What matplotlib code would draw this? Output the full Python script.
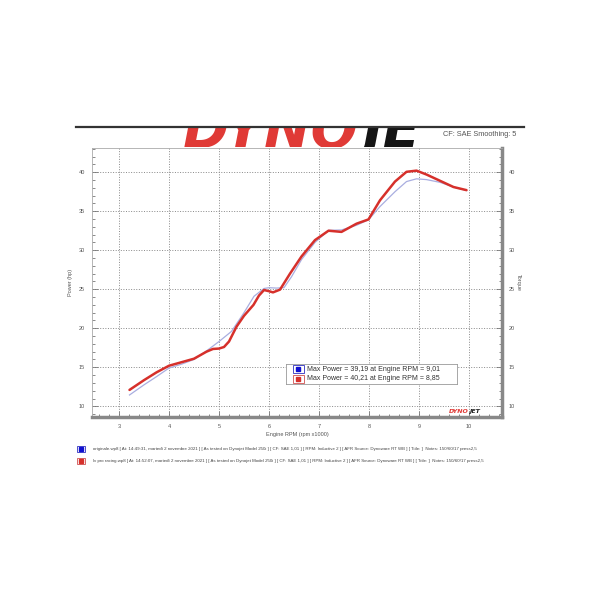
import numpy as np
import matplotlib.pyplot as plt
from matplotlib.ticker import MultipleLocator

plt.rcParams['font.family'] = ['Liberation Sans', 'DejaVu Sans']

# dati (rpm x1000, potenza hp)
rpm_orig = [3.21, 3.5, 3.75, 4.0, 4.25, 4.5, 4.75, 5.0, 5.25, 5.5, 5.7, 5.9, 6.0,
            6.15, 6.3, 6.45, 6.65, 6.92, 7.19, 7.45, 7.75, 7.99, 8.22, 8.52, 8.75,
            8.95, 9.15, 9.42, 9.69, 9.95]
hp_orig = [11.45, 12.75, 13.8, 14.9, 15.4, 16.0, 17.1, 18.3, 19.6, 22.0, 24.1, 25.1,
           25.2, 25.15, 25.2, 26.6, 28.8, 31.0, 32.55, 32.6, 33.2, 33.9, 35.6, 37.5,
           38.8, 39.15, 39.05, 38.7, 38.1, 37.65]

rpm_lv = [3.21, 3.5, 3.75, 4.0, 4.25, 4.5, 4.75, 4.88, 5.0, 5.1, 5.2, 5.35, 5.5,
          5.69, 5.8, 5.9, 6.0, 6.08, 6.22, 6.42, 6.65, 6.92, 7.19, 7.45, 7.75, 7.99,
          8.22, 8.52, 8.75, 8.95, 9.15, 9.42, 9.69, 9.95]
hp_lv = [12.1, 13.35, 14.35, 15.2, 15.65, 16.1, 17.0, 17.35, 17.4, 17.6, 18.3, 20.2,
         21.6, 23.0, 24.2, 24.9, 24.75, 24.6, 24.95, 27.0, 29.2, 31.3, 32.5, 32.35,
         33.4, 33.95, 36.4, 38.8, 40.05, 40.2, 39.7, 38.9, 38.1, 37.7]

x_ticks = [3, 4, 5, 6, 7, 8, 9, 10]
y_ticks = [10, 15, 20, 25, 30, 35, 40]

legend_lines = ['Max Power = 39,19 at Engine RPM = 9,01',
                'Max Power = 40,21 at Engine RPM = 8,85']
file_lines = [
    'originale.wp8 [ At: 14:49:31, martedì 2 novembre 2021 ] [ As tested on Dynojet Model 250i ] '
    '[ CF: SAE 1,01 ] [ RPM: Inductive 2 ] [ AFR Source: Dynoware RT WB ] [ Title: ]  Notes: 150/60/17 press2,5',
    'lv pro racing.wp8 [ At: 14:52:07, martedì 2 novembre 2021 ] [ As tested on Dynojet Model 250i ] '
    '[ CF: SAE 1,01 ] [ RPM: Inductive 2 ] [ AFR Source: Dynoware RT WB ] [ Title: ]  Notes: 150/60/17 press2,5',
]

c_blue = '#a9aee0'
c_red = '#d6302b'
c_txt = '#555555'

fig = plt.figure(figsize=(6, 6), dpi=100)
W = H = 600.0


def box(x0, y0, x1, y1):
    # pixel (dall'alto) -> frazioni figura
    return [x0 / W, 1 - y1 / H, (x1 - x0) / W, (y1 - y0) / H]


# intestazione con logo tagliato
axh = fig.add_axes(box(76, 127, 422, 147))
axh.axis('off')
axh.text(183 / W, 1 - 147 / H, 'DYNO', transform=fig.transFigure, fontsize=40,
         fontweight='bold', style='italic', color='#e03a36', family='DejaVu Sans',
         va='baseline', clip_on=True)
axh.text(362 / W, 1 - 147 / H, 'JE', transform=fig.transFigure, fontsize=40,
         fontweight='bold', style='italic', color='#151515', family='DejaVu Sans',
         va='baseline', clip_on=True)
fig.add_artist(plt.Line2D([76 / W, 524 / W], [1 - 127 / H] * 2, color='#333333', lw=1.6))
fig.text(443 / W, 1 - 135 / H, 'CF: SAE Smoothing: 5', fontsize=5.3, color=c_txt, va='center')

ax = fig.add_axes(box(92, 148, 502, 417))
ax.plot(rpm_orig, hp_orig, color=c_blue, lw=0.9, zorder=3)
ax.plot(rpm_lv, hp_lv, color=c_red, lw=1.8, zorder=4,
        solid_capstyle='round', solid_joinstyle='round')
ax.set_xlim(2.46, 10.66)
ax.set_ylim(8.63, 43.1)

ax.set_xticks(x_ticks)
ax.set_yticks(y_ticks)
ax.xaxis.set_minor_locator(MultipleLocator(0.2))
ax.yaxis.set_minor_locator(MultipleLocator(1))
ax.grid(True, which='major', color='#888888', ls=':', lw=0.7)
ax.tick_params(which='both', direction='in', colors='#777777', labelcolor=c_txt,
               labelsize=4, width=0.6, right=True, labelright=True)
ax.tick_params(which='major', length=4)
ax.tick_params(which='minor', length=2.5)
ax.tick_params(axis='x', pad=5)
ax.tick_params(axis='y', pad=5)
for s in ['left', 'top']:
    ax.spines[s].set_color('#aaaaaa')
    ax.spines[s].set_linewidth(0.6)
for s in ['bottom', 'right']:
    ax.spines[s].set_color('#888888')
    ax.spines[s].set_linewidth(2.5)

ax.set_xlabel('Engine RPM (rpm x1000)', fontsize=4, color=c_txt, labelpad=2)
ax.set_ylabel('Power (hp)', fontsize=4, color=c_txt, labelpad=4)
fig.text(518 / W, 1 - 282 / H, 'Torque', fontsize=4, color=c_txt, rotation=270,
         ha='center', va='center')

# piccolo logo in basso a destra
ax.text(0.92, 0.012, 'DYNO', transform=ax.transAxes, fontsize=4.5, fontweight='bold',
        style='italic', color='#e03a36', ha='right', va='bottom', family='DejaVu Sans')
ax.text(0.92, 0.012, 'JET', transform=ax.transAxes, fontsize=4.5, fontweight='bold',
        style='italic', color='#222222', ha='left', va='bottom', family='DejaVu Sans')

# riquadro dei massimi
axl = fig.add_axes(box(286, 364, 457, 384))
axl.set_xlim(0, 1)
axl.set_ylim(0, 1)
axl.set_xticks([])
axl.set_yticks([])
for s in axl.spines.values():
    s.set_color('#999999')
    s.set_linewidth(0.6)
for i, (txt, col) in enumerate(zip(legend_lines, ['#1010d0', c_red])):
    yc = 0.73 - i * 0.46
    axl.add_patch(plt.Rectangle((0.04, yc - 0.2), 0.065, 0.4, fc='white',
                                ec='#3030c0' if i == 0 else '#d05050', lw=0.6))
    axl.plot([0.0725], [yc], marker='s', ms=2.6, color=col)
    axl.text(0.125, yc, txt, fontsize=5, color='#333333', va='center')

# elenco file
for i, (txt, col) in enumerate(zip(file_lines, ['#1010d0', c_red])):
    yp = 449 + i * 12
    fig.patches.append(plt.Rectangle((77 / W, 1 - (yp + 3) / H), 8 / W, 6 / H,
                                     transform=fig.transFigure, fc='white',
                                     ec='#3030c0' if i == 0 else '#d05050', lw=0.6))
    fig.add_artist(plt.Line2D([81 / W], [1 - yp / H], marker='s', ms=2.2, color=col))
    fig.text(93 / W, 1 - yp / H, txt, fontsize=3.2, color='#444444', va='center')

fig.savefig('out.png', dpi=100, facecolor='white')
